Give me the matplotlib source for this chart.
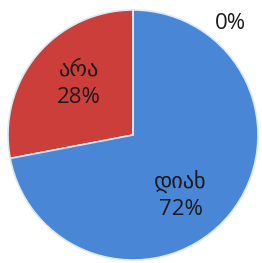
import matplotlib
matplotlib.use("Agg")
import matplotlib.pyplot as plt

categories = ['არა', 'დიახ', 'არ ვიცი']
values = [28, 72, 0]
colors = ['#CC3E3A', '#4A86D6', '#9BBB59']
show_name = [True, True, False]

labels = []
for name, v, s in zip(categories, values, show_name):
    labels.append(f'{name}\n{v}%' if s else f'{v}%')

fig = plt.figure(figsize=(2.62, 2.63), dpi=100)
ax = fig.add_axes([0, 0, 1, 1])

wedges, texts = ax.pie(
    values,
    labels=labels,
    colors=colors,
    startangle=90,
    counterclock=True,
    labeldistance=0.6,
    wedgeprops=dict(edgecolor='#dfe8f5', linewidth=1.2),
    textprops=dict(fontsize=16, color='#1a1a1a', ha='center', va='center',
                   family=['Open Sans', 'DejaVu Sans'], linespacing=1.35),
)

# zero slice label sits outside, top right
texts[2].set_position((0.78, 0.89))
texts[0].set_position((-0.43, 0.41))
texts[1].set_position((0.38, -0.48))

ax.set_xlim(-1.064, 1.032)
ax.set_ylim(-1.024, 1.08)
ax.set_aspect('equal')
ax.axis('off')

fig.savefig('out.png', dpi=100)
